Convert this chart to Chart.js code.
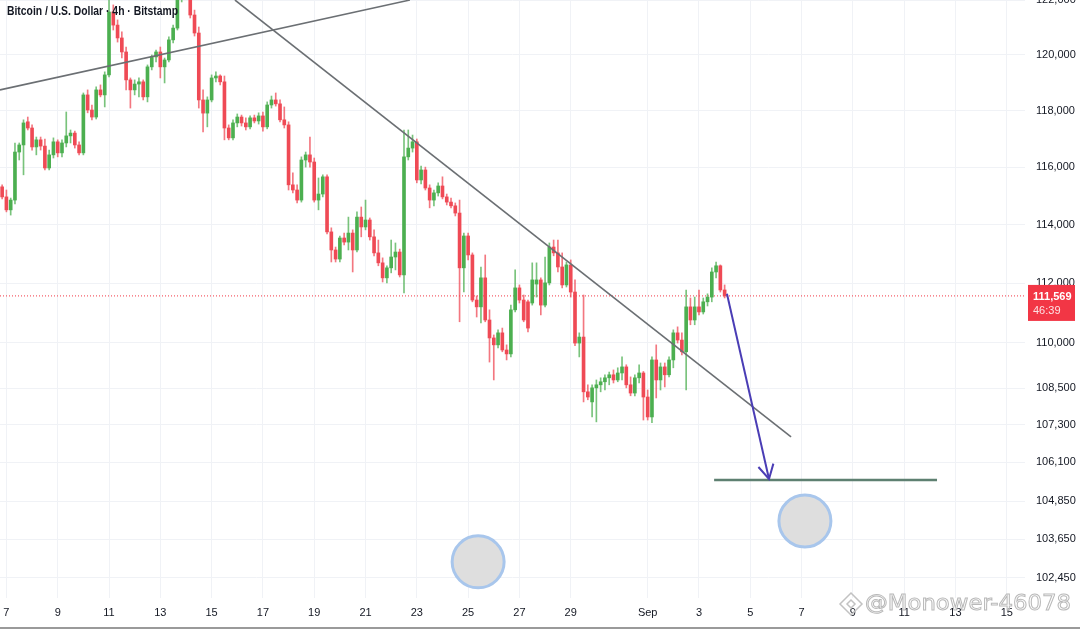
<!DOCTYPE html>
<html>
<head>
<meta charset="utf-8">
<script src="https://cdn.jsdelivr.net/npm/chart.js@4.4.1/dist/chart.umd.min.js"></script>
<style>
  html, body { margin: 0; padding: 0; background: #fff; }
  canvas { display: block; }
</style>
</head>
<body>
<canvas id="myChart" width="1080" height="630"></canvas>
<script>
// 4h candles, first one opens Aug 6 20:00 (x = day of month, Sep 1 = 32)
const firstDay = 6 + 20 / 24
const stepDay = 4 / 24

const opens = [
  115310, 114960, 114510, 114850, 116530, 116780, 117600, 117380, 116710, 116960,
  116740, 115970, 116430, 116890, 116500, 116850, 117100, 117200, 116780, 116500,
  118560, 118020, 117770, 118740, 118560, 119280, 121570, 121090, 120620, 120110,
  119100, 118740, 118950, 119030, 118490, 119570, 119930, 120110, 119570, 119820,
  120550, 120980, 122200, 123500, 122380, 121460, 120800, 118380, 117910, 118380,
  119170, 119240, 119030, 117380, 117030, 117560, 117770, 117560, 117420, 117740,
  117630, 117810, 117420, 118200, 118380, 118240, 117670, 117490, 115380, 115200,
  114850, 116250, 116430, 116180, 114850, 115060, 115660, 113750, 113130, 112820,
  113540, 113400, 113710, 113130, 114260, 113920, 114160, 113580, 113030, 112690,
  112180, 112520, 112890, 113060, 112280, 116360, 116670, 116890, 115550, 115900,
  115270, 114850, 115100, 115340, 114960, 114780, 114650, 114400, 112520, 113610,
  112960, 111430, 111200, 112180, 110760, 110160, 109930, 110330, 109760, 109630,
  111100, 111840, 111430, 111370, 111330, 111970, 112110, 111260, 112010, 113230,
  113030, 112550, 111940, 112620, 111700, 109990, 110190, 108380, 108050, 108510,
  108610, 108710, 108840, 108940, 108770, 109000, 109200, 108610, 108340, 108840,
  109000, 108210, 107560, 109430, 108770, 109200, 108940, 109430, 110330, 110090,
  109700, 111200, 110760, 111200, 111030, 111370, 111530, 112380, 112590, 111770
]
const highs = [
  115380, 115200, 114920, 116850, 116850, 117670, 117770, 117490, 117060, 117060,
  116990, 116600, 117030, 116960, 116960, 117950, 117310, 117270, 116890, 118630,
  118740, 118200, 118850, 118920, 119390, 122310, 121830, 121280, 120840, 120290,
  119170, 119100, 119170, 119100, 119640, 120000, 120180, 120290, 119890, 120660,
  121090, 122570, 124060, 124430, 122750, 121640, 121020, 118740, 118490, 119280,
  119390, 119280, 119240, 117490, 117670, 117880, 117840, 117740, 117810, 117840,
  117920, 117950, 118310, 118520, 118630, 118380, 118130, 117600, 115800, 115380,
  116360, 116530, 117060, 116320, 115620, 115730, 115730, 113890, 113230, 113610,
  113710, 114260, 113820, 114440, 114610, 114850, 114230, 113820, 113470, 112860,
  112590, 113470, 113370, 113160, 117310, 117310, 117130, 116990, 116040, 116000,
  115380, 115200, 115450, 115660, 115060, 114920, 114750, 114850, 113710, 113710,
  113030, 111570, 112550, 112960, 111100, 110260, 110430, 110490, 109930, 111260,
  112450, 111940, 111600, 111430, 112690, 112690, 112180, 112890, 113370, 113470,
  113470, 113030, 112720, 112790, 112110, 110330, 111600, 108610, 108610, 108770,
  108840, 108940, 109030, 109100, 109170, 109530, 109270, 108870, 108940, 109270,
  109050, 108440, 109530, 109930, 109330, 109330, 109530, 110430, 110530, 110330,
  111770, 111500, 111530, 111770, 111500, 111640, 112520, 112720, 112620, 111940
]
const lows = [
  114890, 114440, 114330, 114720, 116250, 115730, 117310, 116600, 116430, 116600,
  115900, 115900, 116320, 116360, 116360, 116710, 116850, 116670, 116430, 116430,
  117920, 117670, 117700, 118490, 118130, 119210, 120910, 120470, 119890, 118740,
  118090, 118560, 118490, 118380, 118310, 119460, 119750, 119170, 118990, 119750,
  120440, 120910, 121940, 122200, 121350, 120690, 118090, 117240, 117420, 118310,
  119030, 118920, 116960, 116960, 116960, 117420, 117450, 117310, 117350, 117560,
  117520, 117270, 117350, 118090, 118160, 117600, 117380, 115200, 115100, 114750,
  114780, 116000, 116000, 114780, 114510, 114960, 113680, 112720, 112720, 112720,
  113300, 113130, 112380, 113060, 113580, 113820, 113470, 112930, 112590, 112040,
  112010, 112350, 112450, 112210, 111670, 116250, 116530, 115450, 115410, 115200,
  114580, 114650, 114990, 114890, 114680, 114580, 114300, 110700, 111700, 112790,
  111370, 110860, 110660, 110700, 109360, 108770, 109830, 109700, 109430, 109530,
  111030, 111330, 110700, 110360, 111260, 111530, 110930, 111200, 111940, 112930,
  112380, 111840, 111870, 111530, 109900, 109530, 108050, 108120, 107560, 107400,
  108380, 108440, 108610, 108670, 108710, 108770, 108510, 108250, 108250, 108670,
  107460, 107460, 107370, 108180, 108440, 108540, 108870, 109170, 109990, 109600,
  108440, 110600, 110600, 110930, 110960, 111230, 111370, 112180, 111700, 111500
]
const closes = [
  114960, 114510, 114850, 116530, 116780, 117560, 117380, 116710, 116960, 116740,
  115970, 116430, 116890, 116500, 116850, 117100, 117200, 116780, 116500, 118560,
  118020, 117770, 118740, 118560, 119280, 121570, 121090, 120620, 120110, 119100,
  118740, 118950, 119030, 118490, 119570, 119930, 120110, 119570, 119820, 120550,
  120980, 122200, 123500, 122380, 121460, 120800, 118380, 117910, 118380, 119170,
  119240, 119030, 117380, 117030, 117560, 117770, 117560, 117420, 117740, 117630,
  117810, 117420, 118200, 118380, 118240, 117670, 117490, 115380, 115200, 114850,
  116250, 116430, 116180, 114850, 115060, 115660, 113750, 113130, 112820, 113540,
  113400, 113710, 113130, 114260, 113920, 114160, 113580, 113030, 112690, 112180,
  112520, 112890, 113060, 112280, 116360, 116670, 116890, 115550, 115900, 115270,
  114850, 115100, 115340, 114960, 114780, 114650, 114400, 112520, 113610, 112960,
  111430, 111200, 112180, 110760, 110160, 109930, 110330, 109760, 109630, 111100,
  111840, 111430, 110760, 110490, 112110, 112110, 111260, 112010, 113230, 113030,
  112550, 111940, 112620, 111700, 109990, 110190, 108380, 108210, 108510, 108610,
  108710, 108840, 108940, 108770, 109000, 109200, 108610, 108340, 108840, 109000,
  108210, 107560, 109430, 108770, 109200, 108940, 109430, 110330, 110090, 109700,
  111200, 110760, 111200, 111030, 111370, 111530, 112380, 112590, 111770, 111569
]

const dayTicks = [7, 9, 11, 13, 15, 17, 19, 21, 23, 25, 27, 29, 32, 34, 36, 38, 40, 42, 44, 46]
const priceTicks = [122000, 120000, 118000, 116000, 114000, 112000, 110000, 108500, 107300, 106100, 104850, 103650, 102450]
const lastPrice = 111569
const countdown = '46:39'
const title = 'Bitcoin / U.S. Dollar \u00b7 4h \u00b7 Bitstamp'
const watermark = '@Monower-46078'

// drawings on the chart, as [day, price]
const trendUp = [[6.75, 118740], [22.73, 122010]]
const trendDown = [[15.91, 122010], [37.59, 106910]]
const supportLevel = [[34.59, 105530], [43.28, 105530]]
const arrowPath = [[35.09, 111640], [36.73, 105560]]
const circleMarks = [[25.39, 102950], [38.13, 104230]]

const dayMin = 6.75
const dayMax = 46.71
const priceMin = 101830
const priceMax = 122012

const upColor = '#4caf50'
const downColor = '#ef4a55'
const gridColor = '#f0f2f6'
const textColor = '#131722'
const font = '"Liberation Sans", Arial, sans-serif'

const toPts = arr => arr.map(p => ({ x: p[0], y: p[1] }))
const candleDay = i => firstDay + i * stepDay
const isUp = i => closes[i] >= opens[i]

const bodies = opens.map((o, i) => ({ x: candleDay(i), y: [o, closes[i]] }))
const wicks = lows.map((l, i) => ({ x: candleDay(i), y: [l, highs[i]] }))
const bodyColors = opens.map((o, i) => isUp(i) ? upColor : downColor)
const wickColors = opens.map((o, i) => isUp(i) ? 'rgba(76,175,80,0.75)' : 'rgba(239,74,85,0.75)')

const dayLabel = d => d > 31 ? (d === 32 ? 'Sep' : String(d - 31)) : String(d)

const overlay = {
  id: 'overlay',
  afterDraw(chart) {
    const { ctx, scales: { x, y } } = chart
    ctx.save()

    // arrow head
    const meta = chart.getDatasetMeta(0)
    const a = meta.data[0], b = meta.data[1]
    const ang = Math.atan2(b.y - a.y, b.x - a.x)
    ctx.strokeStyle = '#4a3db5'
    ctx.lineWidth = 2
    ctx.beginPath()
    ctx.moveTo(b.x - 16 * Math.cos(ang - 0.5), b.y - 16 * Math.sin(ang - 0.5))
    ctx.lineTo(b.x, b.y)
    ctx.lineTo(b.x - 16 * Math.cos(ang + 0.5), b.y - 16 * Math.sin(ang + 0.5))
    ctx.stroke()

    // last price tag
    const py = y.getPixelForValue(lastPrice)
    ctx.fillStyle = '#f23645'
    ctx.fillRect(x.right + 3, py - 11, 47, 36)
    ctx.fillStyle = '#fff'
    ctx.textBaseline = 'middle'
    ctx.textAlign = 'left'
    ctx.font = 'bold 11px ' + font
    ctx.fillText(lastPrice.toLocaleString('en-US'), x.right + 8, py + 1)
    ctx.fillStyle = 'rgba(255,255,255,0.85)'
    ctx.font = '11px ' + font
    ctx.fillText(countdown, x.right + 8, py + 15)

    // title
    ctx.fillStyle = '#131722'
    ctx.font = 'bold 12px ' + font
    const tw = ctx.measureText(title).width
    ctx.save()
    ctx.translate(7, 12)
    ctx.scale(171 / tw, 1)
    ctx.fillText(title, 0, 0)
    ctx.restore()

    // watermark
    ctx.font = '22px "DejaVu Sans", sans-serif'
    const ww = ctx.measureText(watermark).width
    ctx.save()
    ctx.translate(865, 604)
    ctx.scale(206 / ww, 1)
    ctx.fillStyle = 'rgba(255,255,255,0.6)'
    ctx.strokeStyle = '#b9b9b9'
    ctx.lineWidth = 1
    ctx.fillText(watermark, 0, 0)
    ctx.strokeText(watermark, 0, 0)
    ctx.restore()

    // logo diamond
    ctx.strokeStyle = '#c2c2c2'
    ctx.lineWidth = 1.5
    const cx = 851, cy = 604
    ctx.beginPath()
    ctx.moveTo(cx, cy - 11); ctx.lineTo(cx + 11, cy); ctx.lineTo(cx, cy + 11); ctx.lineTo(cx - 11, cy); ctx.closePath()
    ctx.stroke()
    ctx.beginPath()
    ctx.moveTo(cx, cy - 4); ctx.lineTo(cx + 4, cy); ctx.lineTo(cx, cy + 4); ctx.lineTo(cx - 4, cy); ctx.closePath()
    ctx.stroke()

    // bottom frame
    ctx.fillStyle = '#9a9a9a'
    ctx.fillRect(0, 627, chart.width, 2)
    ctx.restore()
  }
}

const myChart = new Chart(document.getElementById('myChart'), {
  type: 'bar',
  data: {
    datasets: [{
      type: 'line',
      data: toPts(arrowPath),
      borderColor: '#4a3db5',
      borderWidth: 2,
      pointRadius: 0
    }, {
      type: 'line',
      data: toPts(supportLevel),
      borderColor: '#5e8071',
      borderWidth: 2.5,
      pointRadius: 0
    }, {
      type: 'line',
      data: toPts(trendDown),
      borderColor: '#6b6f73',
      borderWidth: 1.6,
      pointRadius: 0
    }, {
      type: 'line',
      data: toPts(trendUp),
      borderColor: '#6b6f73',
      borderWidth: 1.6,
      pointRadius: 0
    }, {
      data: bodies,
      backgroundColor: bodyColors,
      barThickness: 3,
      minBarLength: 1,
      grouped: false
    }, {
      data: wicks,
      backgroundColor: wickColors,
      barThickness: 1,
      grouped: false
    }, {
      type: 'line',
      data: toPts([[dayMin, lastPrice], [dayMax, lastPrice]]),
      borderColor: '#f23645',
      borderWidth: 1,
      borderDash: [1, 2],
      pointRadius: 0
    }, {
      type: 'line',
      data: toPts(circleMarks),
      showLine: false,
      pointRadius: 26,
      pointBackgroundColor: '#dedede',
      pointBorderColor: '#a8c6ec',
      pointBorderWidth: 3,
      clip: false
    }]
  },
  options: {
    responsive: false,
    animation: false,
    events: [],
    layout: { padding: 0, autoPadding: false },
    plugins: {
      legend: { display: false },
      tooltip: { enabled: false }
    },
    scales: {
      x: {
        type: 'linear',
        position: 'bottom',
        offset: false,
        min: dayMin,
        max: dayMax,
        bounds: 'data',
        grid: { color: gridColor, drawTicks: false, offset: false },
        border: { display: false },
        ticks: {
          autoSkip: false,
          maxRotation: 0,
          padding: 8,
          color: textColor,
          font: { family: font, size: 11 },
          callback: v => dayLabel(v)
        },
        afterBuildTicks: axis => { axis.ticks = dayTicks.map(v => ({ value: v })) },
        afterFit: axis => {
          axis.height = 32
          axis.paddingLeft = 0
          axis.paddingRight = 0
        }
      },
      y: {
        type: 'logarithmic',
        position: 'right',
        min: priceMin,
        max: priceMax,
        bounds: 'data',
        grid: { color: gridColor, drawTicks: false },
        border: { display: false },
        ticks: {
          padding: 11,
          color: textColor,
          font: { family: font, size: 11 },
          callback: v => Number(v).toLocaleString('en-US')
        },
        afterBuildTicks: axis => { axis.ticks = priceTicks.map(v => ({ value: v })) },
        afterFit: axis => {
          axis.width = 55
          axis.paddingTop = 0
          axis.paddingBottom = 0
        }
      }
    }
  },
  plugins: [overlay]
})
</script>
</body>
</html>
